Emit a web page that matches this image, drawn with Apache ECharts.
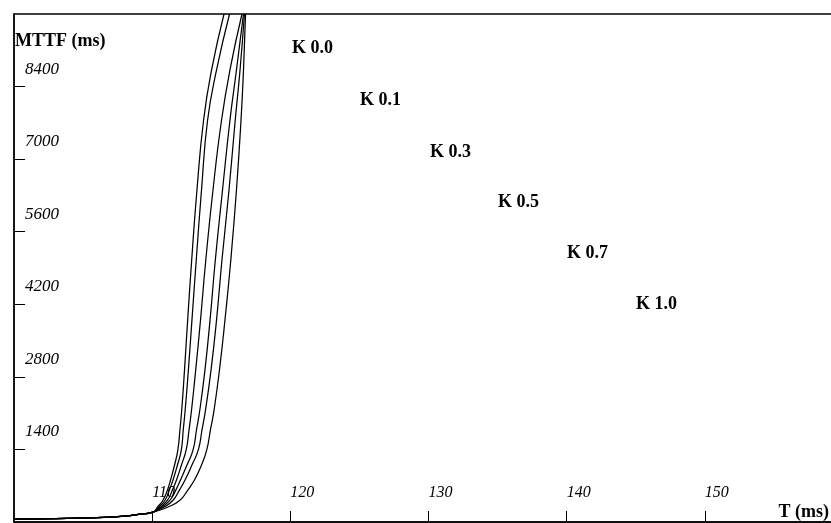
<!DOCTYPE html>
<html>
<head>
<meta charset="utf-8">
<script src="https://cdn.jsdelivr.net/npm/echarts@6/dist/echarts.min.js"></script>
<style>
html,body{margin:0;padding:0;background:#fff;}
#chart{width:831px;height:523px;}
</style>
</head>
<body>
<div id="chart"></div>
<script>
// ---- data ----
const xTickLabels = ['110', '120', '130', '140', '150'];
const yTickLabels = ['1400', '2800', '4200', '5600', '7000', '8400'];
const curveNames = ['K 0.0', 'K 0.1', 'K 0.3', 'K 0.5', 'K 0.7', 'K 1.0'];

// shared low part of all curves (T in ms, MTTF in ms)
const commonT = [100, 103, 106, 108, 109];
const commonMTTF = [55, 65, 85, 115, 145];

// MTTF levels at which each curve's T was read
const mttfLevels = [190, 290, 420, 620, 810, 1100, 1390, 1780, 2160, 2930, 3900, 5050, 6400, 7750, 8720, 9800];

const tK00 = [110.06, 110.39, 110.78, 111.11, 111.33, 111.62, 111.86, 112.01, 112.14, 112.34, 112.57, 112.86, 113.24, 113.72, 114.30, 115.20];
const tK01 = [110.06, 110.49, 110.93, 111.25, 111.51, 111.83, 112.11, 112.25, 112.39, 112.62, 112.88, 113.19, 113.57, 114.01, 114.66, 115.60];
const tK03 = [110.06, 110.60, 111.11, 111.47, 111.76, 112.12, 112.46, 112.67, 112.85, 113.15, 113.50, 113.88, 114.40, 115.02, 115.63, 116.50];
const tK05 = [110.06, 110.71, 111.29, 111.72, 112.05, 112.52, 112.96, 113.21, 113.45, 113.82, 114.19, 114.57, 115.09, 115.63, 116.10, 116.61];
const tK07 = [110.06, 110.86, 111.51, 111.98, 112.38, 112.88, 113.34, 113.61, 113.86, 114.26, 114.66, 115.05, 115.56, 116.01, 116.36, 116.68];
const tK10 = [110.06, 111.15, 112.01, 112.59, 113.06, 113.57, 113.95, 114.22, 114.48, 114.87, 115.27, 115.69, 116.10, 116.43, 116.61, 116.76];

const curveT = [tK00, tK01, tK03, tK05, tK07, tK10];

// ---- chart ----
const FONT = '"Liberation Serif", "Times New Roman", serif';

function buildData(tArr) {
  const d = [];
  for (let i = 0; i < commonT.length; i++) d.push([commonT[i], commonMTTF[i]]);
  for (let i = 0; i < tArr.length; i++) d.push([tArr[i], mttfLevels[i]]);
  return d;
}

const series = curveNames.map((name, i) => ({
  name: name,
  type: 'line',
  data: buildData(curveT[i]),
  showSymbol: false,
  symbol: 'none',
  smooth: 0.5,
  clip: true,
  lineStyle: { color: '#000', width: 1.25 },
  silent: true
}));

// label positions (pixel) of the curve names
const labelPos = [[292, 48], [360, 100], [430, 152], [498, 202], [567, 253], [636, 304]];
const graphics = curveNames.map((n, i) => ({
  type: 'text',
  x: labelPos[i][0],
  y: labelPos[i][1],
  style: { text: n, font: 'bold 18px ' + FONT, fill: '#000', verticalAlign: 'middle', align: 'left' }
}));
graphics.push({
  type: 'text', x: 15, y: 41,
  style: { text: 'MTTF (ms)', font: 'bold 18px ' + FONT, fill: '#000', verticalAlign: 'middle', align: 'left' }
});
graphics.push({
  type: 'text', x: 829, y: 512,
  style: { text: 'T (ms)', font: 'bold 18px ' + FONT, fill: '#000', verticalAlign: 'middle', align: 'right' }
});

const chart = echarts.init(document.getElementById('chart'), null, { renderer: 'canvas' });
chart.setOption({
  animation: false,
  backgroundColor: '#fff',
  grid: {
    left: 14, top: 14, right: -12, bottom: 1,
    show: true, borderColor: '#000', borderWidth: 1.3,
    containLabel: false,
    outerBoundsMode: 'none'
  },
  xAxis: {
    type: 'value', min: 100, max: 160, interval: 10,
    axisLine: { show: true, lineStyle: { color: '#000', width: 1.5 } },
    axisTick: { show: true, inside: true, length: 11, lineStyle: { color: '#000', width: 1 } },
    splitLine: { show: false },
    axisLabel: {
      inside: true, margin: 21, align: 'left', verticalAlign: 'bottom',
      showMinLabel: false, showMaxLabel: false,
      fontFamily: FONT, fontStyle: 'italic', fontSize: 16, color: '#000', lineHeight: 16,
      formatter: function (v) { const s = String(v); return xTickLabels.indexOf(s) >= 0 ? s : ''; }
    }
  },
  yAxis: {
    type: 'value', min: 0, max: 9800, interval: 1400,
    axisLine: { show: true, lineStyle: { color: '#000', width: 1.5 } },
    axisTick: { show: true, inside: true, length: 11, lineStyle: { color: '#000', width: 1 } },
    splitLine: { show: false },
    axisLabel: {
      inside: true, margin: 11, align: 'left', verticalAlign: 'bottom',
      padding: [0, 0, 9, 0],
      showMinLabel: false, showMaxLabel: false,
      fontFamily: FONT, fontStyle: 'italic', fontSize: 17, color: '#000', lineHeight: 17,
      formatter: function (v) { const s = String(v); return yTickLabels.indexOf(s) >= 0 ? s : ''; }
    }
  },
  series: series,
  graphic: graphics
});
</script>
</body>
</html>
